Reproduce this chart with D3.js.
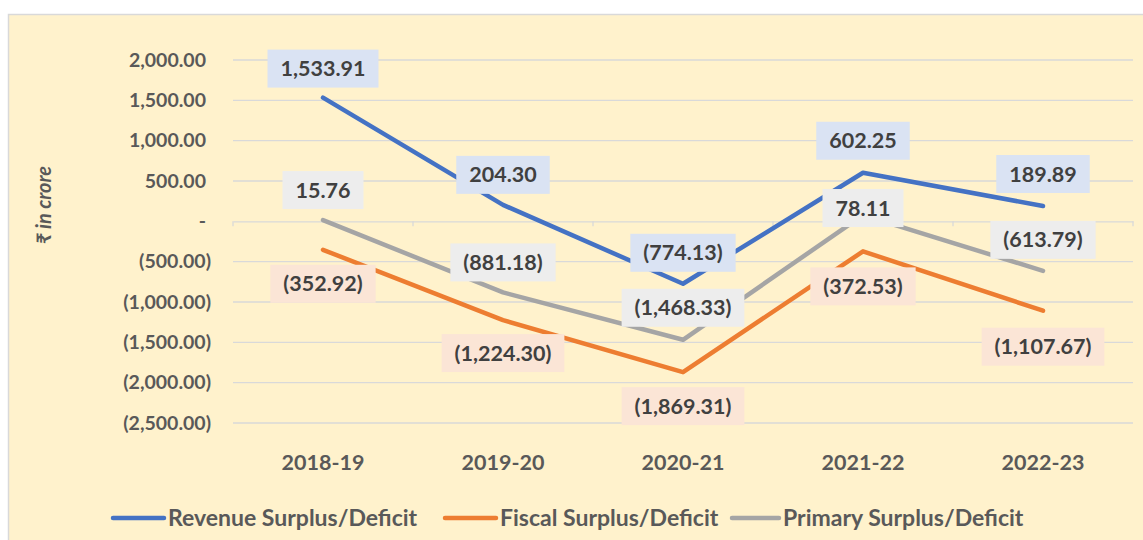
<!DOCTYPE html>
<html lang="en">
<head>
<meta charset="utf-8">
<title>Surplus / Deficit</title>
<style>
  body { margin: 0; background: #fff; }
  text { font-family: Lato, "Open Sans", sans-serif; font-weight: bold; }
</style>
</head>
<body>
<div id="wrapper"></div>
<script src="https://cdn.jsdelivr.net/npm/d3@7/dist/d3.min.js"></script>
<script>
const years = ["2018-19", "2019-20", "2020-21", "2021-22", "2022-23"]
const revenue = [1533.91, 204.30, -774.13, 602.25, 189.89]
const fiscal = [-352.92, -1224.30, -1869.31, -372.53, -1107.67]
const primary = [15.76, -881.18, -1468.33, 78.11, -613.79]
const yTicks = [2000, 1500, 1000, 500, 0, -500, -1000, -1500, -2000, -2500]
const seriesNames = ["Revenue Surplus/Deficit", "Fiscal Surplus/Deficit", "Primary Surplus/Deficit"]

const series = [
  {name: seriesNames[0], values: revenue, color: "#4472C4", box: "#DAE3F3", dy: [-29, -30, -31, -32, -32]},
  {name: seriesNames[1], values: fiscal, color: "#ED7D31", box: "#FBE5D6", dy: [34, 33, 34, 35, 36]},
  {name: seriesNames[2], values: primary, color: "#A5A5A5", box: "#EDEDED", dy: [-30, -30, -32, -7, -31]},
]

const width = 1143, height = 540
const svg = d3.select("#wrapper").append("svg")
  .attr("width", width).attr("height", height)

svg.append("rect")
  .attr("x", 8.5).attr("y", 14.5)
  .attr("width", width).attr("height", height)
  .attr("fill", "#FFF2CC")
  .attr("stroke", "#D9D9D9")
  .attr("stroke-width", 1.5)

const x = d3.scaleBand().domain(years).range([233, 1133])
const y = d3.scaleLinear().domain([-2500, 2000]).range([423, 60])

const fmt = v => {
  if (v === 0) return "-"
  const s = d3.format(",.2f")(Math.abs(v))
  return v < 0 ? `(${s})` : s
}

// gridlines
svg.append("g")
  .selectAll("line")
  .data(yTicks.filter(d => d !== 0))
  .join("line")
  .attr("x1", 233).attr("x2", 1133)
  .attr("y1", d => y(d)).attr("y2", d => y(d))
  .attr("stroke", "#D9D9D9").attr("stroke-width", 1.3)

// zero axis with ticks
const xAxis = svg.append("g")
  .attr("transform", `translate(0,${y(0)})`)
  .call(d3.axisBottom(x).tickSize(0).tickFormat(""))
xAxis.select(".domain").attr("stroke", "#D9D9D9").attr("stroke-width", 1.3)
svg.append("g").selectAll("line")
  .data(d3.range(years.length + 1))
  .join("line")
  .attr("x1", i => 233 + i * x.step()).attr("x2", i => 233 + i * x.step())
  .attr("y1", y(0)).attr("y2", y(0) + 5)
  .attr("stroke", "#D9D9D9").attr("stroke-width", 1.3)

// y tick labels
svg.append("g")
  .selectAll("text")
  .data(yTicks)
  .join("text")
  .attr("x", d => d < 0 ? 211 : 206)
  .attr("y", d => y(d))
  .attr("dy", "0.35em")
  .attr("text-anchor", "end")
  .attr("fill", "#595959")
  .style("font-size", "19.5px")
  .text(fmt)

// x labels
svg.append("g")
  .selectAll("text")
  .data(years)
  .join("text")
  .attr("x", d => x(d) + x.bandwidth() / 2)
  .attr("y", 462)
  .attr("dy", "0.35em")
  .attr("text-anchor", "middle")
  .attr("fill", "#595959")
  .style("font-size", "21.5px")
  .text(d => d)

// y title
svg.append("text")
  .attr("transform", `translate(51,205) rotate(-90)`)
  .attr("text-anchor", "middle")
  .attr("fill", "#595959")
  .style("font-size", "20px")
  .style("font-style", "italic")
  .text("₹ in crore")

const line = d3.line()
  .x((d, i) => x(years[i]) + x.bandwidth() / 2)
  .y(d => y(d))

svg.append("g")
  .selectAll("path")
  .data(series)
  .join("path")
  .attr("d", d => line(d.values))
  .attr("fill", "none")
  .attr("stroke", d => d.color)
  .attr("stroke-width", 4.5)
  .attr("stroke-linejoin", "round")
  .attr("stroke-linecap", "round")

// data labels
series.forEach(s => {
  s.values.forEach((v, i) => {
    const cx = x(years[i]) + x.bandwidth() / 2
    const cy = y(v) + s.dy[i]
    const g = svg.append("g")
    const rect = g.append("rect").attr("fill", s.box)
    const t = g.append("text")
      .attr("x", cx).attr("y", cy)
      .attr("dy", "0.35em")
      .attr("text-anchor", "middle")
      .attr("fill", "#404040")
      .style("font-size", "21.5px")
      .text(fmt(v))
    const w = t.node().getComputedTextLength() + 26
    rect.attr("x", cx - w / 2).attr("y", cy - 19)
      .attr("width", w).attr("height", 38)
  })
})

// legend
const legendX = [113, 445, 732]
const legend = svg.append("g")
  .selectAll("g")
  .data(series)
  .join("g")
  .attr("transform", (d, i) => `translate(${legendX[i]},518)`)
legend.append("line")
  .attr("x1", 0).attr("x2", (d, i) => i === 2 ? 47 : 51)
  .attr("stroke", d => d.color)
  .attr("stroke-width", 4.5)
  .attr("stroke-linecap", "round")
legend.append("text")
  .attr("x", (d, i) => i === 2 ? 51 : 55)
  .attr("dy", "0.35em")
  .attr("fill", "#595959")
  .style("font-size", "23px")
  .text(d => d.name)
</script>
</body>
</html>
